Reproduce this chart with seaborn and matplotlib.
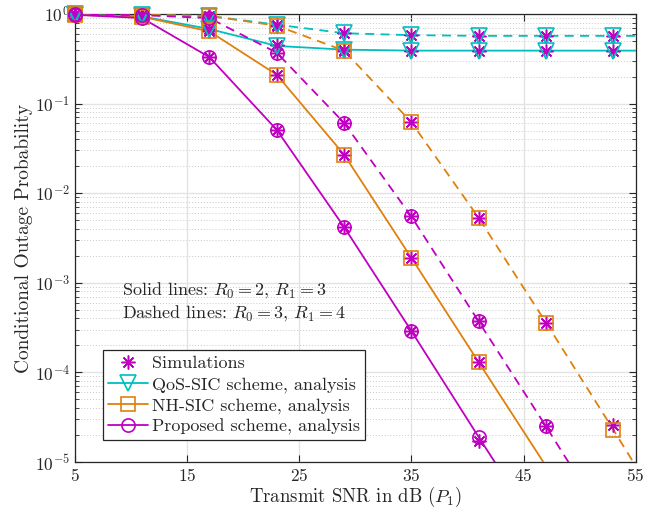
import numpy as np
import pandas as pd
import matplotlib
matplotlib.use('Agg')
import matplotlib.pyplot as plt
from matplotlib.lines import Line2D
import seaborn as sns

sns.set_style('ticks')
plt.rcParams['font.family'] = 'cmr10'
plt.rcParams['mathtext.fontset'] = 'cm'
plt.rcParams['axes.formatter.use_mathtext'] = True


# %%
# values
snr_marks = [5, 11, 17, 23, 29, 35, 41, 47, 53]
snr_line = snr_marks + [55]

# analysis (solid: R0=2, R1=3 / dashed: R0=3, R1=4)
qos_solid = [0.98, 0.94, 0.68, 0.44, 0.40, 0.39, 0.39, 0.39, 0.39, 0.39]
qos_dashed = [0.99, 0.98, 0.95, 0.76, 0.61, 0.58, 0.57, 0.57, 0.57, 0.57]
nh_solid = [0.98, 0.93, 0.64, 0.21, 0.027, 0.0019, 1.3e-4, 9e-6, 6e-7, 2.5e-7]
nh_dashed = [0.99, 0.98, 0.95, 0.74, 0.39, 0.062, 0.0053, 3.6e-4, 2.3e-5, 9e-6]
prop_solid = [0.98, 0.90, 0.33, 0.051, 0.0042, 2.9e-4, 1.9e-5, 1.3e-6, 8e-8, 3e-8]
prop_dashed = [0.99, 0.97, 0.90, 0.37, 0.061, 0.0055, 3.7e-4, 2.5e-5, 1.6e-6, 6e-7]

# simulations (at marker positions)
sim_qos_solid = [0.98, 0.94, 0.68, 0.45, 0.40, 0.39, 0.39, 0.39, 0.39]
sim_qos_dashed = [0.99, 0.98, 0.95, 0.76, 0.61, 0.58, 0.57, 0.57, 0.57]
sim_nh_solid = [0.98, 0.93, 0.64, 0.21, 0.027, 0.0019, 1.3e-4, 9e-6, 6e-7]
sim_nh_dashed = [0.99, 0.98, 0.95, 0.74, 0.39, 0.062, 0.0053, 3.6e-4, 2.6e-5]
sim_prop_solid = [0.98, 0.90, 0.33, 0.051, 0.0042, 2.9e-4, 1.7e-5, 1.3e-6, 8e-8]
sim_prop_dashed = [0.99, 0.97, 0.90, 0.37, 0.061, 0.0055, 3.7e-4, 2.5e-5, 1.6e-6]

cyan = '#00BFBF'
orange = '#E0800D'
magenta = '#C000C0'

curves = [
    ('qos', qos_solid, sim_qos_solid, cyan, '-', 'v', 11),
    ('qos', qos_dashed, sim_qos_dashed, cyan, '--', 'v', 11),
    ('nh', nh_solid, sim_nh_solid, orange, '-', 's', 9.5),
    ('nh', nh_dashed, sim_nh_dashed, orange, '--', 's', 9.5),
    ('prop', prop_solid, sim_prop_solid, magenta, '-', 'o', 9.5),
    ('prop', prop_dashed, sim_prop_dashed, magenta, '--', 'o', 9.5),
]

ymin, ymax = 1e-5, 1.0

# %%
fig = plt.figure(figsize=(6.5, 5.12), dpi=100)
ax = fig.add_axes([0.115, 0.0977, 0.863, 0.875])
ax.set_yscale('log')

for name, ana, sim, col, ls, mk, ms in curves:
    df = pd.DataFrame({'snr': snr_line, 'p': ana})
    sns.lineplot(data=df, x='snr', y='p', ax=ax, color=col, linestyle=ls,
                 linewidth=1.3, zorder=3)
    if ls == '--':
        ax.lines[-1].set_dashes([5, 3.5])

    # simulations
    ds = pd.DataFrame({'snr': snr_marks, 'p': sim})
    ds = ds[(ds['p'] >= ymin) & (ds['p'] <= 1.05)]
    ax.plot(ds['snr'], ds['p'], linestyle='none', marker=(8, 2, 0), markersize=10,
            markeredgecolor=magenta, markeredgewidth=1.1, color=magenta,
            clip_on=False, zorder=4)

    # markers on analysis curves (only inside the axes, not clipped at edges)
    dm = pd.DataFrame({'snr': snr_marks, 'p': ana[:len(snr_marks)]})
    dm = dm[(dm['p'] >= ymin) & (dm['p'] <= 1.05)]
    ax.plot(dm['snr'], dm['p'], linestyle='none', marker=mk, markersize=ms,
            markerfacecolor='none', markeredgecolor=col, markeredgewidth=1.2,
            clip_on=False, zorder=5)

ax.set_xlim(5, 55)
ax.set_ylim(ymin, ymax)
ax.set_xticks([5, 15, 25, 35, 45, 55])
ax.set_yticks([1e-5, 1e-4, 1e-3, 1e-2, 1e-1, 1])

ax.grid(True, which='major', color='#E3E3E3', linewidth=1.0, linestyle='-')
ax.grid(True, which='minor', axis='y', color='#C8C8C8', linewidth=0.7, linestyle=(0, (1, 2)))
ax.set_axisbelow(True)

ax.tick_params(which='both', direction='in', top=True, right=True, labelsize=12.5,
               color='#262626')
ax.tick_params(which='major', length=5)
ax.tick_params(which='minor', length=3)
for s in ax.spines.values():
    s.set_color('#262626')
    s.set_linewidth(0.9)

ax.set_xlabel('Transmit SNR in dB ($P_1$)', fontsize=13.5, labelpad=1)
ax.set_ylabel('Conditional Outage Probability', fontsize=14, labelpad=1)

ax.text(0.085, 0.405, 'Solid lines: $R_0=2$, $R_1=3$\nDashed lines: $R_0=3$, $R_1=4$',
        transform=ax.transAxes, fontsize=13, va='top', ha='left', linespacing=1.15)

handles = [
    Line2D([], [], linestyle='none', marker=(8, 2, 0), markersize=10,
           markeredgecolor=magenta, markeredgewidth=1.1, color=magenta),
    Line2D([], [], color=cyan, linewidth=1.3, marker='v', markersize=11,
           markerfacecolor='none', markeredgecolor=cyan, markeredgewidth=1.2),
    Line2D([], [], color=orange, linewidth=1.3, marker='s', markersize=9.5,
           markerfacecolor='none', markeredgecolor=orange, markeredgewidth=1.2),
    Line2D([], [], color=magenta, linewidth=1.3, marker='o', markersize=9.5,
           markerfacecolor='none', markeredgecolor=magenta, markeredgewidth=1.2),
]
labels = ['Simulations', 'QoS-SIC scheme, analysis', 'NH-SIC scheme, analysis',
          'Proposed scheme, analysis']
leg = ax.legend(handles, labels, loc='lower left', bbox_to_anchor=(0.05, 0.048),
                fontsize=13, frameon=True, fancybox=False, framealpha=1,
                edgecolor='#262626', handlelength=2.2, handletextpad=0.2,
                borderpad=0.3, labelspacing=0.28, borderaxespad=0)
leg.get_frame().set_linewidth(0.9)

fig.savefig('out.png', dpi=100)
